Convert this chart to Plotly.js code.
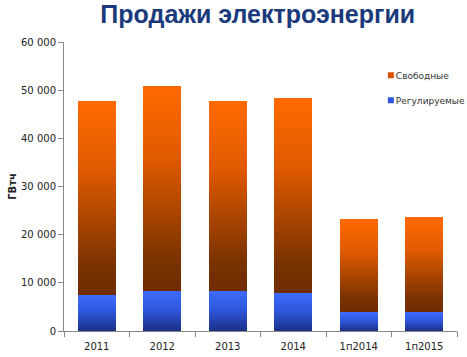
<!DOCTYPE html>
<html><head><meta charset="utf-8">
<script src="https://cdn.plot.ly/plotly-3.0.1.min.js"></script>
<style>html,body{margin:0;padding:0;background:#fff}#chart{width:467px;height:357px}</style>
</head><body><div id="chart"></div>
<script>
const categories = ['2011', '2012', '2013', '2014', '1п2014', '1п2015'];
const regulated = [7500, 8300, 8300, 7900, 3950, 3900];
const free = [40300, 42500, 39400, 40500, 19300, 19700];
const seriesNames = ['Регулируемые', 'Свободные'];

const traces = [
  {type: 'bar', x: categories, y: regulated, name: seriesNames[0], legendgroup: 'r', legendrank: 2,
   marker: {color: '#2f55e0'}},
  {type: 'bar', x: categories, y: free, name: seriesNames[1], legendgroup: 'f', legendrank: 1,
   marker: {color: '#d95400'}}
];
const layout = {
  width: 467, height: 357,
  barmode: 'stack', bargap: 0.42,
  separators: ', ',
  margin: {l: 64, r: 10, t: 42, b: 26, autoexpand: false},
  paper_bgcolor: '#fff', plot_bgcolor: '#fff',
  font: {family: 'DejaVu Sans, Verdana, sans-serif', size: 10, color: '#222'},
  title: {text: '<b>Продажи электроэнергии</b>', x: 0.552, xanchor: 'center', y: 0.985, yanchor: 'top',
          font: {family: 'Liberation Sans, Arial, sans-serif', size: 25, color: '#1a3a7c'}},
  showlegend: true,
  legend: {xref: 'container', yref: 'container', x: 0.762, y: 0.83, xanchor: 'left', yanchor: 'top',
           traceorder: 'grouped', tracegroupgap: 6, font: {size: 9, color: '#333'},
           itemwidth: 30, bgcolor: 'rgba(0,0,0,0)'},
  xaxis: {type: 'category', showline: true, linecolor: '#888', ticks: 'outside', tickson: 'boundaries',
          ticklen: 5, tickcolor: '#888', showgrid: false, ticklabelstandoff: 6,
          tickfont: {size: 10, color: '#222'}},
  yaxis: {range: [0, 60000], dtick: 10000, tickformat: ',d', showline: true, linecolor: '#888',
          ticks: 'outside', ticklen: 5, tickcolor: '#888', showgrid: false, zeroline: false,
          tickfont: {size: 10, color: '#222'},
          title: {text: '<b>ГВтч</b>', standoff: 2, font: {size: 10, color: '#222'}}}
};
Plotly.newPlot('chart', traces, layout, {displayModeBar: false, staticPlot: true}).then(function(gd){
  const svg = gd.querySelector('svg.main-svg');
  const ns = 'http://www.w3.org/2000/svg';
  let defs = svg.querySelector('defs');
  function grad(id, stops){
    const g = document.createElementNS(ns, 'linearGradient');
    g.setAttribute('id', id); g.setAttribute('x1','0'); g.setAttribute('y1','0');
    g.setAttribute('x2','0'); g.setAttribute('y2','1');
    stops.forEach(function(s){
      const st = document.createElementNS(ns, 'stop');
      st.setAttribute('offset', s[0]); st.setAttribute('stop-color', s[1]);
      g.appendChild(st);
    });
    defs.appendChild(g);
  }
  grad('gOrange', [['0','#ff6a00'],['0.35','#e05a00'],['0.85','#7a3200'],['1','#6e2c00']]);
  grad('gBlue', [['0','#3c6cff'],['0.5','#2d55d8'],['1','#1a2f85']]);
  const traceGroups = svg.querySelectorAll('.barlayer .trace');
  const ids = ['gBlue', 'gOrange'];
  traceGroups.forEach(function(t, i){
    t.querySelectorAll('path').forEach(function(p){
      p.style.fill = 'url(#' + ids[i] + ')';
    });
  });
  gd.querySelectorAll('.legend .legendpoints path').forEach(function(p){
    p.setAttribute('d', 'M3,3H-3V-3H3Z');
    p.setAttribute('transform', 'translate(35,0)');
    p.style.strokeWidth = '0';
  });
});
</script></body></html>
